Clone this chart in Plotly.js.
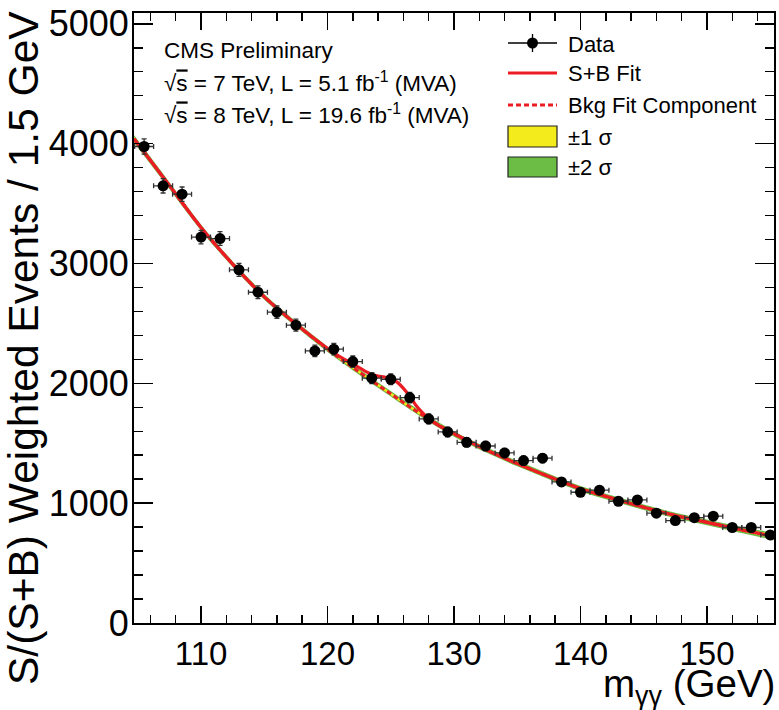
<!DOCTYPE html>
<html>
<head>
<meta charset="utf-8">
<script src="https://cdn.plot.ly/plotly-3.0.1.min.js"></script>
<style>html,body{margin:0;padding:0;background:#fff}#chart{width:779px;height:710px}</style>
</head>
<body>
<div id="chart"></div>
<script>
// Data points (bin centres, GeV) and weighted event counts
const mass = [105.5,107,108.5,110,111.5,113,114.5,116,117.5,119,120.5,122,123.5,125,126.5,128,129.5,131,132.5,134,135.5,137,138.5,140,141.5,143,144.5,146,147.5,149,150.5,152,153.5,155];
const events = [3976,3648,3578,3220,3208,2947,2760,2594,2485,2270,2285,2181,2043,2034,1881,1703,1594,1508,1477,1419,1355,1375,1177,1091,1108,1016,1027,916,855,879,891,797,797,735];
const eventsErr = [63,60,60,57,57,54,53,51,50,48,48,47,45,45,43,41,40,39,38,38,37,37,34,33,33,32,32,30,29,30,30,28,28,27];
const binHalfWidth = 0.75;

// Background fit component
const bkgX = [104.7,107.5,110,112.5,115,117.5,120,122.5,125,127.5,130,132.5,135,137.5,140,142.5,145,147.5,150,152.5,155.3];
const bkgY = [4040,3650,3300,2995,2722,2495,2285,2095,1912,1735,1578,1447,1330,1222,1121,1041,966,897,840,782,722];
const band1 = [16,14,13,12,12,11,11,11,11,11,11,11,11,11,11,11,11,11,12,13,15];
const band2 = [32,28,26,24,24,23,23,23,23,23,23,23,23,23,23,23,23,23,24,26,30];

// Signal + background fit
const sbX = [104.7,107.5,110,112.5,115,117.5,119,120,121,122,123,123.5,124,124.5,125,125.5,126,126.5,127,127.5,128,129,130,132.5,135,137.5,140,142.5,145,147.5,150,152.5,155.3];
const sbY = [4040,3650,3300,2995,2722,2495,2370,2290,2220,2160,2100,2075,2060,2052,2040,2010,1958,1892,1815,1755,1705,1635,1580,1447,1330,1222,1121,1041,966,897,840,782,722];

const xTicks = [110,120,130,140,150];
const xTickLabels = ['110','120','130','140','150'];
const yTicks = [0,1000,2000,3000,4000,5000];
const yTickLabels = ['0','1000','2000','3000','4000','5000'];

const FONT = 'Liberation Sans, Arial, Helvetica, sans-serif';
const RED = '#ec1c24', YEL = '#f3eb1b', GRN = '#6bbd45';

const lo2 = bkgY.map((v,i)=>v-band2[i]), hi2 = bkgY.map((v,i)=>v+band2[i]);
const lo1 = bkgY.map((v,i)=>v-band1[i]), hi1 = bkgY.map((v,i)=>v+band1[i]);

const traces = [
  {x:bkgX, y:lo2, mode:'lines', line:{width:0, shape:'spline'}, hoverinfo:'skip', showlegend:false},
  {x:bkgX, y:hi2, mode:'lines', fill:'tonexty', fillcolor:GRN, line:{width:0, shape:'spline'}, hoverinfo:'skip', showlegend:false},
  {x:bkgX, y:lo1, mode:'lines', line:{width:0, shape:'spline'}, hoverinfo:'skip', showlegend:false},
  {x:bkgX, y:hi1, mode:'lines', fill:'tonexty', fillcolor:YEL, line:{width:0, shape:'spline'}, hoverinfo:'skip', showlegend:false},
  {x:bkgX, y:bkgY, mode:'lines', line:{color:RED, width:3, dash:'5px,3px', shape:'spline'}, showlegend:false},
  {x:sbX, y:sbY, mode:'lines', line:{color:RED, width:3.2, shape:'spline', smoothing:0.8}, showlegend:false},
  {x:mass, y:events, mode:'markers', marker:{color:'#000', size:11},
   error_y:{type:'data', array:eventsErr, visible:true, color:'#333', thickness:1.3, width:2.5},
   error_x:{type:'constant', value:binHalfWidth, visible:true, color:'#333', thickness:1.3, width:2.5},
   showlegend:false}
];

function px(p){return (p-134)/640;}
function py(p){return (623-p)/610;}

const lx0 = px(508), lx1 = px(557), lxm = px(532.5), ltx = px(566);
const shapes = [
  {type:'line', xref:'paper', yref:'paper', x0:lx0, x1:lx1, y0:py(43), y1:py(43), line:{color:'#000', width:1.3}},
  {type:'line', xref:'paper', yref:'paper', x0:lxm, x1:lxm, y0:py(34), y1:py(52), line:{color:'#000', width:1.3}},
  {type:'circle', xref:'paper', yref:'paper', xsizemode:'pixel', ysizemode:'pixel', xanchor:lxm, yanchor:py(43), x0:-5.5, x1:5.5, y0:-5.5, y1:5.5, fillcolor:'#000', line:{color:'#000', width:0}},
  {type:'line', xref:'paper', yref:'paper', x0:lx0, x1:lx1, y0:py(73), y1:py(73), line:{color:RED, width:3}},
  {type:'line', xref:'paper', yref:'paper', x0:lx0, x1:lx1, y0:py(105), y1:py(105), line:{color:RED, width:3, dash:'5px,3px'}},
  {type:'rect', xref:'paper', yref:'paper', x0:lx0, x1:lx1, y0:py(147), y1:py(126), fillcolor:YEL, line:{color:'#222', width:1.2}},
  {type:'rect', xref:'paper', yref:'paper', x0:lx0, x1:lx1, y0:py(177), y1:py(157), fillcolor:GRN, line:{color:'#222', width:1.2}}
];

function ann(text, x, y, size, extra){
  return Object.assign({text:text, xref:'paper', yref:'paper', x:x, y:y, xanchor:'left', yanchor:'middle', showarrow:false, font:{family:FONT, size:size, color:'#000'}}, extra||{});
}
const sq = '√<span style="text-decoration:overline">s</span>';
const annotations = [
  ann('CMS Preliminary', px(162), py(50), 22.5),
  ann(sq + ' = 7 TeV, L = 5.1 fb<sup>-1</sup> (MVA)', px(162), py(82), 22.5),
  ann(sq + ' = 8 TeV, L = 19.6 fb<sup>-1</sup> (MVA)', px(162), py(114), 22.5),
  ann('Data', ltx, py(44), 22),
  ann('S+B Fit', ltx, py(74), 22),
  ann('Bkg Fit Component', ltx, py(105), 22),
  ann('±1 σ', ltx, py(137), 22),
  ann('±2 σ', ltx, py(168), 22),
  ann('S/(S+B) Weighted Events / 1.5 GeV', px(23), py(348), 42.5, {xanchor:'center', textangle:-90}),
  ann('m<sub>γγ</sub> (GeV)', 1, py(686), 38.5, {xanchor:'right', xshift:3})
];

const axisCommon = {
  showline:true, linecolor:'#000', linewidth:2, mirror:'ticks',
  ticks:'inside', tickcolor:'#000', tickwidth:1.5, showgrid:false, zeroline:false,
  tickfont:{family:FONT, size:33, color:'#000'}
};

const layout = {
  width:779, height:710,
  margin:{l:134, r:5, t:13, b:87},
  paper_bgcolor:'#fff', plot_bgcolor:'#fff',
  showlegend:false,
  xaxis:Object.assign({}, axisCommon, {
    range:[104.7,155.3], tickmode:'array', tickvals:xTicks, ticktext:xTickLabels, ticklen:17,
    minor:{dtick:2, tick0:0, ticks:'inside', ticklen:8, tickcolor:'#000', tickwidth:1.5}
  }),
  yaxis:Object.assign({}, axisCommon, {
    range:[0,5090], tickmode:'array', tickvals:yTicks, ticktext:yTickLabels, ticklen:19,
    tickfont:{family:FONT, size:36, color:'#000'}, ticklabelstandoff:-4,
    minor:{dtick:200, tick0:0, ticks:'inside', ticklen:9, tickcolor:'#000', tickwidth:1.5}
  }),
  shapes:shapes,
  annotations:annotations
};

Plotly.newPlot('chart', traces, layout, {staticPlot:true, displayModeBar:false});
</script>
</body>
</html>
